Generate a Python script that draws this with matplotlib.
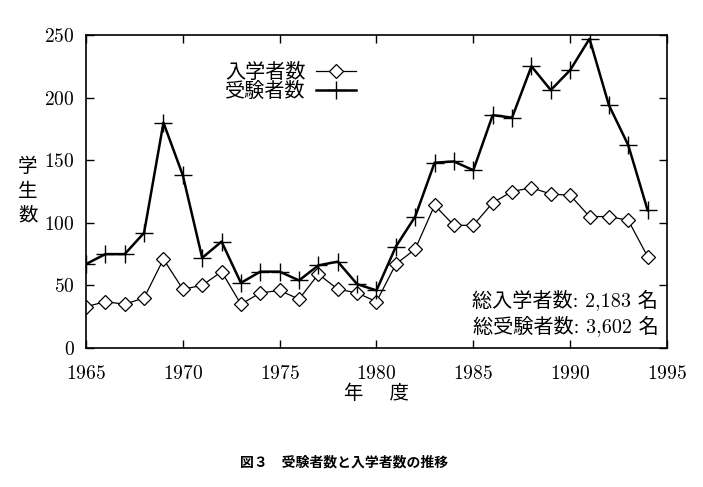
"""Applicants and admitted students per year."""
import matplotlib
matplotlib.use("Agg")
import matplotlib.pyplot as plt

years = list(range(1965, 1995))
admitted = [33, 37, 35, 40, 71, 47, 50, 61, 35, 44,
            46, 39, 59, 47, 44, 37, 67, 79, 114, 98,
            98, 116, 125, 128, 123, 122, 105, 105, 102, 73]
applicants = [67, 75, 75, 92, 180, 138, 72, 85, 52, 61,
              61, 54, 66, 69, 51, 46, 81, 105, 148, 149,
              142, 186, 184, 225, 206, 222, 247, 194, 162, 110]

x_ticks = [1965, 1970, 1975, 1980, 1985, 1990, 1995]
y_ticks = [0, 50, 100, 150, 200, 250]

FONTS = ["cmr10", "Noto Sans CJK JP", "DejaVu Sans"]


def main() -> None:
    plt.rcParams["font.family"] = FONTS
    plt.rcParams["axes.formatter.use_mathtext"] = True

    fig = plt.figure(figsize=(7.03, 4.87), dpi=100)
    ax = fig.add_axes([0.1223, 0.2854, 0.8265, 0.6427])

    ax.plot(years, admitted, color="black", lw=0.9, marker="D", ms=7.5,
            mfc="white", mec="black", mew=0.9, label="入学者数")
    ax.plot(years, applicants, color="black", lw=1.8, marker="+", ms=13,
            mew=1.0, label="受験者数")

    ax.set_xlim(1965, 1995)
    ax.set_ylim(0, 250)
    ax.set_xticks(x_ticks)
    ax.set_yticks(y_ticks)
    ax.tick_params(direction="in", length=6, width=1, top=True, right=True,
                   labelsize=14)
    ax.tick_params(axis="x", pad=12)
    ax.tick_params(axis="y", pad=8)
    for s in ax.spines.values():
        s.set_linewidth(1.2)

    ax.set_xlabel("年\u3000 度", fontsize=14, labelpad=1)
    ax.set_ylabel("学\n生\n数", fontsize=14, rotation=0, labelpad=8,
                  linespacing=1.45, va="center")
    ax.yaxis.set_label_coords(-0.1, 0.5)

    ax.legend(loc="upper left", bbox_to_anchor=(0.215, 0.955),
              frameon=False, markerfirst=False, fontsize=14.5,
              handlelength=2.0, handletextpad=0.5, labelspacing=0.0,
              borderpad=0.2)

    ax.text(0.985, 0.153, "総入学者数: 2,183 名", transform=ax.transAxes,
            ha="right", va="center", fontsize=14.5)
    ax.text(0.985, 0.073, "総受験者数: 3,602 名", transform=ax.transAxes,
            ha="right", va="center", fontsize=14.5)

    fig.text(0.49, 0.05, "図３　受験者数と入学者数の推移", ha="center",
             va="center", fontsize=10, fontweight="bold",
             family=["Noto Sans CJK JP", "DejaVu Sans"])

    fig.savefig("out.png", dpi=100)


if __name__ == "__main__":
    main()
